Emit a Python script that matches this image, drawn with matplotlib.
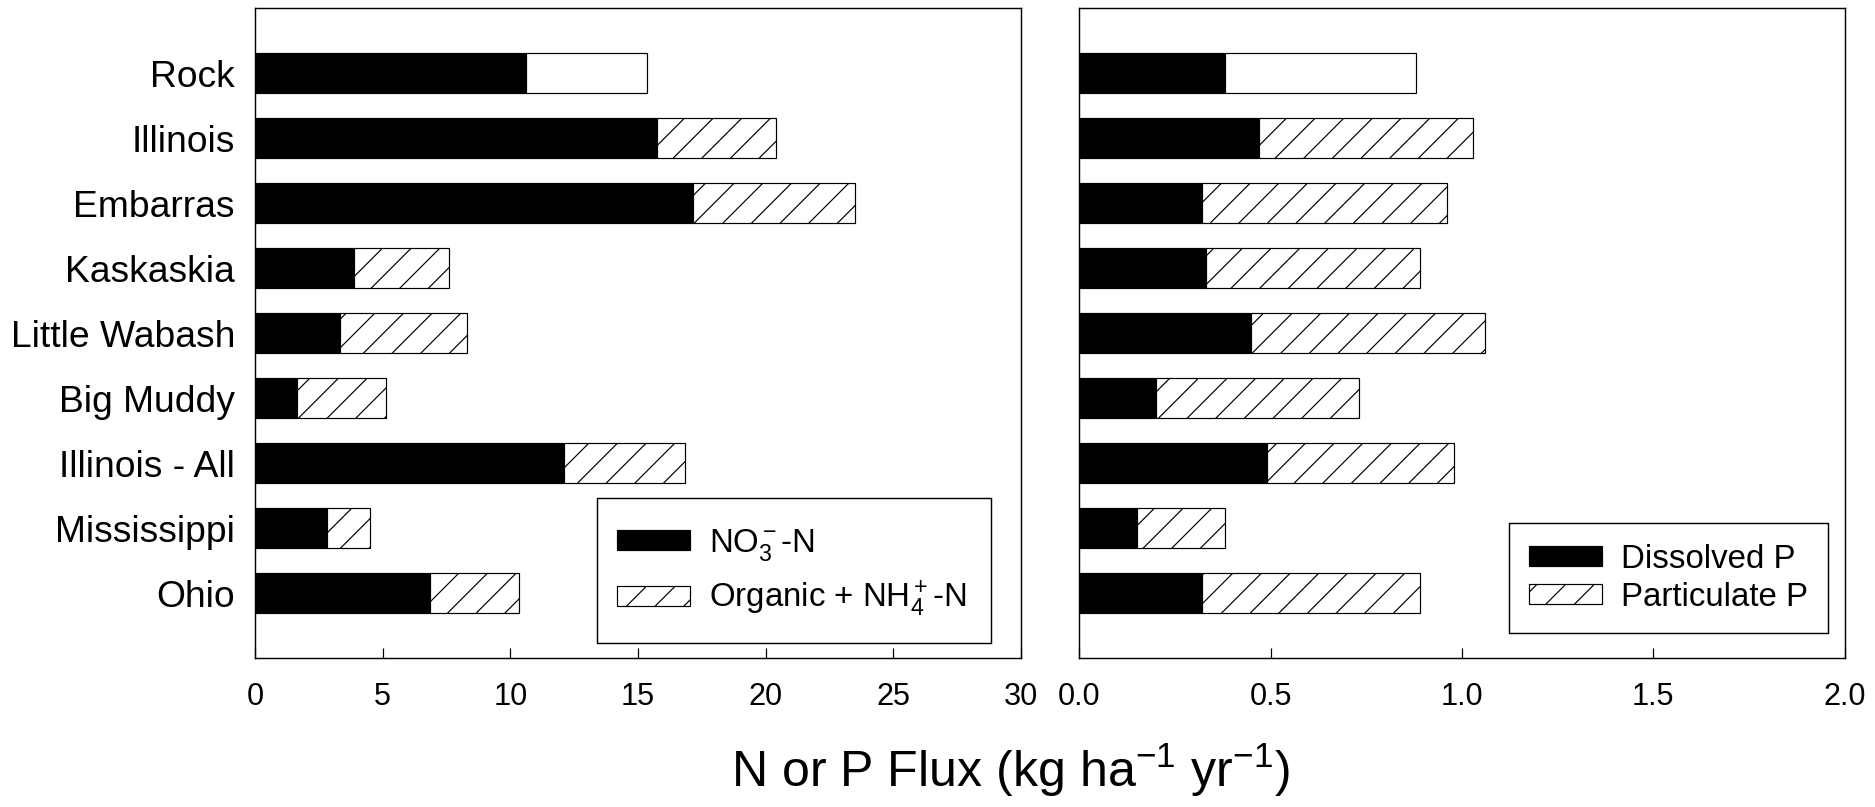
import numpy as np
import matplotlib
matplotlib.use("Agg")
import matplotlib.pyplot as plt
import matplotlib.patches as mpatches

# data
rivers = ['Rock', 'Illinois', 'Embarras', 'Kaskaskia', 'Little Wabash',
          'Big Muddy', 'Illinois - All', 'Mississippi', 'Ohio']
no3_n = [10.6, 15.73, 17.17, 3.87, 3.33, 1.66, 12.12, 2.83, 6.84]
org_n = [4.74, 4.69, 6.35, 3.71, 4.96, 3.46, 4.74, 1.67, 3.51]
diss_p = [0.38, 0.47, 0.32, 0.33, 0.45, 0.20, 0.49, 0.15, 0.32]
part_p = [0.50, 0.56, 0.64, 0.56, 0.61, 0.53, 0.49, 0.23, 0.57]
hatched = [False, True, True, True, True, True, True, True, True]

n_ticks = [0, 5, 10, 15, 20, 25, 30]
p_ticks = [0.0, 0.5, 1.0, 1.5, 2.0]

DPI = 172
W, H = 1875, 807
plt.rcParams['font.family'] = ['Liberation Sans', 'DejaVu Sans']
plt.rcParams['mathtext.fontset'] = 'custom'
plt.rcParams['mathtext.rm'] = 'Liberation Sans'
plt.rcParams['mathtext.it'] = 'Liberation Sans'
plt.rcParams['mathtext.default'] = 'regular'
plt.rcParams['hatch.linewidth'] = 0.5

fig = plt.figure(figsize=(W / DPI, H / DPI), dpi=DPI, facecolor='white')
ax1 = fig.add_axes([0.136, 0.1843, 0.4085, 0.8058])
ax2 = fig.add_axes([0.5756, 0.1843, 0.4082, 0.8058])

y = np.arange(len(rivers))
bh = 0.61
lw = 0.5
HATCH = '//'


def draw(ax, first, second):
    ax.barh(y, first, height=bh, color='black', edgecolor='black', linewidth=lw)
    bars = ax.barh(y, second, left=first, height=bh, color='white',
                   edgecolor='black', linewidth=lw)
    for b, h in zip(bars, hatched):
        if h:
            b.set_hatch(HATCH)
    ax.set_ylim(len(rivers), -1)
    for s in ax.spines.values():
        s.set_linewidth(0.6)
    ax.tick_params(axis='x', direction='in', length=4.2, width=0.5,
                   labelsize=12.8, pad=10)
    ax.tick_params(axis='y', length=0)


draw(ax1, no3_n, org_n)
draw(ax2, diss_p, part_p)

ax1.set_xlim(0, 30)
ax1.set_xticks(n_ticks)
ax1.set_xticklabels([str(t) for t in n_ticks])
ax1.set_yticks(y)
ax1.set_yticklabels(rivers, fontsize=15.6)
ax1.tick_params(axis='y', pad=8.4)

ax2.set_xlim(0, 2.0)
ax2.set_xticks(p_ticks)
ax2.set_xticklabels(['%.1f' % t for t in p_ticks])
ax2.set_yticks([])

solid = mpatches.Patch(facecolor='black', edgecolor='black', linewidth=lw)
hatch = mpatches.Patch(facecolor='white', edgecolor='black', linewidth=lw, hatch=HATCH)

# left legend: frame drawn by hand, it is taller than the entries need
x0, x1, y0, y1 = 597, 990.7, 497.7, 643.3
box = mpatches.Rectangle((x0 / W, 1 - y1 / H), (x1 - x0) / W, (y1 - y0) / H,
                         transform=fig.transFigure, facecolor='white',
                         edgecolor='black', linewidth=0.6, zorder=4)
ax1.add_artist(box)
l1 = ax1.legend([solid, hatch], ['NO$_3^-$-N', 'Organic + NH$_4^+$-N'],
                loc='center left', bbox_to_anchor=(617 / W, 1 - 573 / H),
                bbox_transform=fig.transFigure, frameon=False, borderpad=0,
                borderaxespad=0, fontsize=13.8, handlelength=2.2,
                handleheight=0.55, handletextpad=0.58, labelspacing=0.48)

l2 = ax2.legend([solid, hatch], ['Dissolved P', 'Particulate P'],
                loc='lower right', bbox_to_anchor=(0.9751, 0.2153),
                bbox_transform=fig.transFigure, borderaxespad=0,
                fancybox=False, framealpha=1, edgecolor='black', fontsize=13.8,
                handlelength=2.2, handleheight=0.55, handletextpad=0.58,
                labelspacing=0.21, borderpad=0.62)
l2.get_frame().set_linewidth(0.6)

fig.text(730.7 / W, 1 - 787 / H, 'N or P Flux (kg ha$^{-1}$ yr$^{-1}$)',
         fontsize=21, ha='left', va='baseline')

fig.savefig('out.png', dpi=DPI, facecolor='white')
